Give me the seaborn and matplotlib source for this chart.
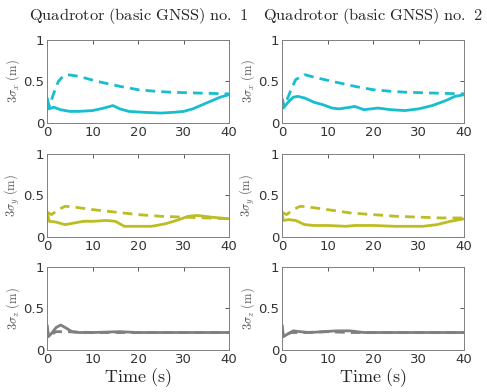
import numpy as np
import pandas as pd
import seaborn as sns
import matplotlib.pyplot as plt

# time stamps (s) and 3-sigma values
# row x, column 1
t_x1 = [0, 0.3, 1.5, 3, 5, 7, 10, 12.5, 14.5, 16, 18, 21, 25, 28, 30, 32, 35, 38, 40]
s_x1 = [0.30, 0.17, 0.19, 0.16, 0.14, 0.14, 0.15, 0.18, 0.21, 0.17, 0.14, 0.13, 0.12, 0.13, 0.14, 0.17, 0.24, 0.31, 0.34]
td_x1 = [0, 0.5, 1.5, 2.5, 3.5, 4.5, 7, 11, 16, 20, 24, 27, 33, 40]
d_x1 = [0.30, 0.20, 0.36, 0.50, 0.56, 0.58, 0.56, 0.50, 0.44, 0.40, 0.38, 0.37, 0.36, 0.35]
# row x, column 2
t_x2 = [0, 0.3, 1.5, 2.5, 3.5, 5, 7, 9, 11, 12.5, 15, 16, 18, 21, 24, 27, 30, 33, 36, 38, 40]
s_x2 = [0.28, 0.18, 0.26, 0.31, 0.32, 0.30, 0.25, 0.22, 0.18, 0.17, 0.19, 0.20, 0.16, 0.18, 0.16, 0.15, 0.17, 0.21, 0.27, 0.32, 0.34]
td_x2 = [0, 0.5, 2, 3, 5, 7, 11, 16, 20, 24, 27, 33, 40]
d_x2 = [0.30, 0.20, 0.40, 0.52, 0.58, 0.55, 0.50, 0.44, 0.40, 0.38, 0.37, 0.36, 0.35]
# row y, column 1
t_y1 = [0, 0.5, 2, 4, 6, 8, 10, 13, 15, 17, 20, 23, 26, 29, 31, 33, 36, 40]
s_y1 = [0.30, 0.19, 0.18, 0.15, 0.17, 0.19, 0.19, 0.20, 0.19, 0.13, 0.13, 0.13, 0.16, 0.21, 0.25, 0.26, 0.24, 0.22]
td_y1 = [0, 1, 2.5, 4, 6, 10, 15, 20, 25, 30, 35, 40]
d_y1 = [0.30, 0.27, 0.33, 0.37, 0.36, 0.33, 0.30, 0.27, 0.25, 0.24, 0.23, 0.22]
# row y, column 2
t_y2 = [0, 0.3, 1.5, 3, 5, 7, 10, 14, 16, 20, 25, 31, 34, 37, 40]
s_y2 = [0.30, 0.20, 0.21, 0.20, 0.15, 0.14, 0.14, 0.13, 0.14, 0.14, 0.13, 0.13, 0.15, 0.19, 0.22]
td_y2 = [0, 1, 2.5, 4, 6, 10, 15, 20, 25, 30, 35, 40]
d_y2 = [0.30, 0.27, 0.33, 0.37, 0.36, 0.33, 0.29, 0.27, 0.25, 0.24, 0.23, 0.23]
# row z, column 1
t_z1 = [0, 0.3, 1, 2, 3, 4, 5.5, 7, 10, 16, 20, 40]
s_z1 = [0.30, 0.16, 0.20, 0.27, 0.30, 0.27, 0.22, 0.21, 0.21, 0.22, 0.21, 0.21]
td_z1 = [0, 0.3, 2, 4, 10, 40]
d_z1 = [0.30, 0.17, 0.22, 0.22, 0.21, 0.21]
# row z, column 2
t_z2 = [0, 0.3, 1.5, 2.5, 4, 6, 9, 12, 15, 18, 40]
s_z2 = [0.30, 0.16, 0.20, 0.23, 0.22, 0.21, 0.22, 0.23, 0.23, 0.21, 0.21]
td_z2 = [0, 0.3, 2, 5, 10, 15, 40]
d_z2 = [0.30, 0.17, 0.21, 0.21, 0.22, 0.21, 0.21]

titles = ['Quadrotor (basic GNSS) no. 1', 'Quadrotor (basic GNSS) no. 2']
ylabels = [r'$3\sigma_x\ \mathrm{(m)}$', r'$3\sigma_y\ \mathrm{(m)}$', r'$3\sigma_z\ \mathrm{(m)}$']
colors = ['#17becf', '#bcbd22', '#7f7f7f']

panels = [[(t_x1, s_x1, td_x1, d_x1), (t_x2, s_x2, td_x2, d_x2)],
          [(t_y1, s_y1, td_y1, d_y1), (t_y2, s_y2, td_y2, d_y2)],
          [(t_z1, s_z1, td_z1, d_z1), (t_z2, s_z2, td_z2, d_z2)]]

sns.set_style('white')
plt.rcParams['font.family'] = ['DejaVu Sans']
plt.rcParams['mathtext.fontset'] = 'cm'

fig = plt.figure(figsize=(4.87, 3.92), dpi=100)
lefts = [0.0965, 0.579]
bottoms = [0.686, 0.395, 0.107]
for r in range(3):
    for c in range(2):
        ax = fig.add_axes([lefts[c], bottoms[r], 0.374, 0.213])
        t, s, td, d = panels[r][c]
        sns.lineplot(x=td, y=d, ax=ax, color=colors[r], lw=2, linestyle=(0, (3.5, 2.2)))
        sns.lineplot(x=t, y=s, ax=ax, color=colors[r], lw=2)
        ax.set_xlim(0, 40)
        ax.set_ylim(0, 1)
        ax.set_xticks([0, 10, 20, 30, 40])
        ax.set_yticks([0, 0.5, 1])
        ax.set_yticklabels(['0', '0.5', '1'])
        ax.tick_params(direction='in', length=3, width=0.6, colors='#404040',
                       labelsize=9.5, top=True, right=True, pad=2, labelcolor='#333333')
        for sp in ax.spines.values():
            sp.set_color('#808080')
            sp.set_linewidth(0.7)
        ax.set_ylabel(ylabels[r], fontsize=9, color='#555555', labelpad=1)
        if r == 0:
            ax.set_title(r'$\mathrm{' + titles[c].replace(' ', r'\ ') + '}$', fontsize=11.8,
                         pad=14, color='#262626')
        if r == 2:
            ax.set_xlabel(r'$\mathrm{Time\ (s)}$', fontsize=13, labelpad=0, color='#262626')

plt.savefig('out.png', dpi=100)
